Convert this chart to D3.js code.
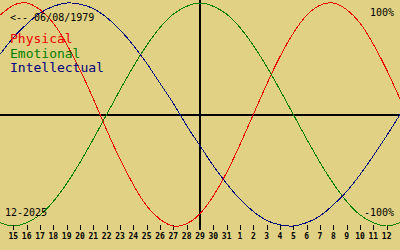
<!DOCTYPE html>
<html><head><meta charset="utf-8">
<script src="https://cdn.jsdelivr.net/npm/d3@7"></script>
<style>html,body{margin:0;padding:0;background:#e1d184;}svg{display:block;}</style>
</head><body>
<script>
// day offsets relative to the centre date (29 Dec 2025), -15..15
const offsets = d3.range(-15, 16);
// tick labels for offsets -14..14
const dayLabels = ["15","16","17","18","19","20","21","22","23","24","25","26","27","28","29","30","31","1","2","3","4","5","6","7","8","9","10","11","12"];
// biorhythm values (%) at each offset
const physical = [89,98,100,94,82,63,40,14,-14,-40,-63,-82,-94,-100,-98,-89,-73,-52,-27,0,27,52,73,89,98,100,94,82,63,40,14];
const emotional = [-97,-100,-97,-90,-78,-62,-43,-22,0,22,43,62,78,90,97,100,97,90,78,62,43,22,0,-22,-43,-62,-78,-90,-97,-100,-97];
const intellectual = [54,69,81,91,97,100,99,95,87,76,62,46,28,10,-10,-28,-46,-62,-76,-87,-95,-99,-100,-97,-91,-81,-69,-54,-37,-19,0];
const seriesNames = ["Physical","Emotional","Intellectual"];
const seriesColors = ["#ee0000","#008000","#000080"];
const birthLabel = "<-- 06/08/1979";
const monthLabel = "12-2025";
const topLabel = "100%";
const bottomLabel = "-100%";

const W = 400, H = 250;
const svg = d3.select("body").append("svg").attr("width", W).attr("height", H)
  .style("background", "#e1d184");

const x = d3.scaleLinear().domain([-15, 15]).range([0, 400]);
const y = d3.scaleLinear().domain([-100, 100]).range([226, 3]);

// axes lines
svg.append("line").attr("x1", 0).attr("x2", W).attr("y1", y(0)).attr("y2", y(0))
  .attr("stroke", "#000").attr("stroke-width", 2).attr("shape-rendering", "crispEdges");
svg.append("line").attr("x1", x(0)).attr("x2", x(0)).attr("y1", 0).attr("y2", 230)
  .attr("stroke", "#000").attr("stroke-width", 2).attr("shape-rendering", "crispEdges");

// ticks
const tickOffsets = d3.range(-14, 15);
svg.selectAll("line.tick").data(tickOffsets).join("line").attr("class", "tick")
  .attr("x1", d => Math.round(x(d)) + 0.5).attr("x2", d => Math.round(x(d)) + 0.5)
  .attr("y1", 225).attr("y2", 230).attr("stroke", "#000").attr("stroke-width", 1)
  .attr("shape-rendering", "crispEdges");
svg.selectAll("text.tl").data(tickOffsets).join("text").attr("class", "tl")
  .attr("x", d => x(d)).attr("y", 239).attr("text-anchor", "middle")
  .attr("font-family", "DejaVu Sans Mono").attr("font-weight", "bold").attr("font-size", 8)
  .attr("fill", "#000").text((d, i) => dayLabels[i]);

// curves
const line = d3.line().x((d, i) => x(offsets[i])).y(d => y(d)).curve(d3.curveNatural);
[physical, emotional, intellectual].forEach((s, k) => {
  svg.append("path").attr("d", line(s)).attr("fill", "none")
    .attr("stroke", seriesColors[k]).attr("stroke-width", 1)
    .attr("shape-rendering", "crispEdges");
});

// texts
const mono = "DejaVu Sans Mono";
svg.append("text").attr("x", 10).attr("y", 21).attr("font-family", mono).attr("font-size", 10)
  .attr("fill", "#000").text(birthLabel);
seriesNames.forEach((n, k) => {
  svg.append("text").attr("x", 10).attr("y", 43 + k * 14.7).attr("font-family", mono)
    .attr("font-size", 13).attr("fill", seriesColors[k]).text(n);
});
svg.append("text").attr("x", 394).attr("y", 16).attr("text-anchor", "end")
  .attr("font-family", mono).attr("font-size", 10).attr("fill", "#000").text(topLabel);
svg.append("text").attr("x", 394).attr("y", 216).attr("text-anchor", "end")
  .attr("font-family", mono).attr("font-size", 10).attr("fill", "#000").text(bottomLabel);
svg.append("text").attr("x", 5).attr("y", 216)
  .attr("font-family", mono).attr("font-size", 10).attr("fill", "#000").text(monthLabel);
</script>
</body></html>
